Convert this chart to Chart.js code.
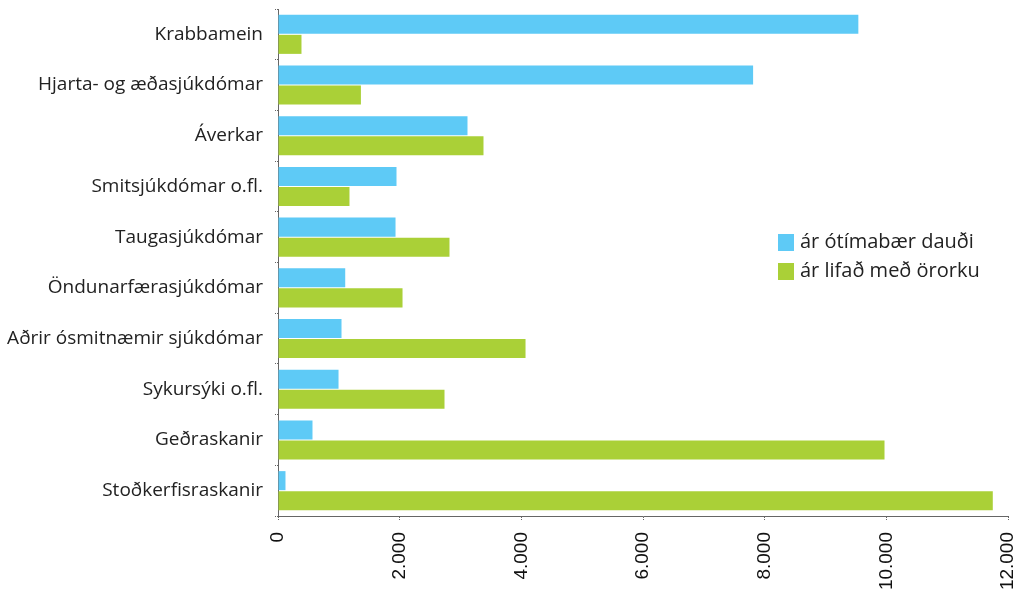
<!DOCTYPE html>
<html>
<head>
<meta charset="utf-8">
<script src="https://cdn.jsdelivr.net/npm/chart.js@4/dist/chart.umd.min.js"></script>
<style>
  html, body { margin: 0; padding: 0; background: #fff; }
  #wrap { width: 1021px; height: 594px; position: relative; }
</style>
</head>
<body>
<div id="wrap"><canvas id="chart"></canvas></div>
<script>
// Data
const categories = [
    'Krabbamein',
    'Hjarta- og æðasjúkdómar',
    'Áverkar',
    'Smitsjúkdómar o.fl.',
    'Taugasjúkdómar',
    'Öndunarfærasjúkdómar',
    'Aðrir ósmitnæmir sjúkdómar',
    'Sykursýki o.fl.',
    'Geðraskanir',
    'Stoðkerfisraskanir'
];
const seriesNames = ['ár ótímabær dauði', 'ár lifað með örorku'];
const deathYears = [9540, 7810, 3115, 1948, 1932, 1105, 1044, 995, 567, 123];
const disabilityYears = [386, 1363, 3378, 1175, 2819, 2047, 4069, 2737, 9970, 11750];
const tickValues = [0, 2000, 4000, 6000, 8000, 10000, 12000];

const colors = ['#5ecaf6', '#aad037'];

// Legend drawn inside the plot area, to the right
const insideLegend = {
    id: 'insideLegend',
    afterDraw(chart) {
        const ctx = chart.ctx;
        ctx.save();
        ctx.font = '20px "Open Sans", sans-serif';
        ctx.textBaseline = 'middle';
        chart.data.datasets.forEach((ds, i) => {
            const y = 242 + i * 29;
            ctx.fillStyle = ds.backgroundColor;
            ctx.fillRect(778, y - 8, 16, 17);
            ctx.fillStyle = '#222';
            ctx.fillText(ds.label, 800, y);
        });
        ctx.restore();
    }
};

function formatThousands(v) {
    return v.toString().replace(/\B(?=(\d{3})+(?!\d))/g, '.');
}

new Chart(document.getElementById('chart'), {
    type: 'bar',
    data: {
        labels: categories,
        datasets: [
            { label: seriesNames[0], data: deathYears, backgroundColor: colors[0] },
            { label: seriesNames[1], data: disabilityYears, backgroundColor: colors[1] }
        ]
    },
    options: {
        indexAxis: 'y',
        responsive: true,
        maintainAspectRatio: false,
        animation: false,
        categoryPercentage: 0.79,
        barPercentage: 0.95,
        layout: { padding: { top: 9, right: 13, left: 0, bottom: 0 } },
        plugins: {
            legend: { display: false },
            tooltip: { enabled: false }
        },
        scales: {
            x: {
                min: 0,
                max: 12000,
                afterFit: (scale) => {
                    scale.height = 78;
                    scale.paddingLeft = 0;
                    scale.paddingRight = 0;
                },
                afterBuildTicks: (scale) => { scale.ticks = tickValues.map(v => ({ value: v })); },
                border: { color: '#666', dash: [1, 1] },
                grid: {
                    drawOnChartArea: false,
                    drawTicks: true,
                    tickLength: 4,
                    tickColor: '#666',
                    tickBorderDash: [1, 1]
                },
                ticks: {
                    minRotation: 90,
                    maxRotation: 90,
                    padding: 12,
                    color: '#111',
                    font: { family: '"Liberation Sans", Arial, sans-serif', size: 19 },
                    callback: (v) => formatThousands(v)
                }
            },
            y: {
                afterFit: (scale) => {
                    scale.width = 278;
                    scale.paddingTop = 0;
                    scale.paddingBottom = 0;
                },
                border: { color: '#666', dash: [1, 1] },
                grid: {
                    drawOnChartArea: false,
                    drawTicks: true,
                    tickLength: 3,
                    tickColor: '#666',
                    tickBorderDash: [1, 1]
                },
                ticks: {
                    padding: 12,
                    color: '#222',
                    font: { family: '"Open Sans", sans-serif', size: 19 }
                }
            }
        }
    },
    plugins: [insideLegend]
});
</script>
</body>
</html>
